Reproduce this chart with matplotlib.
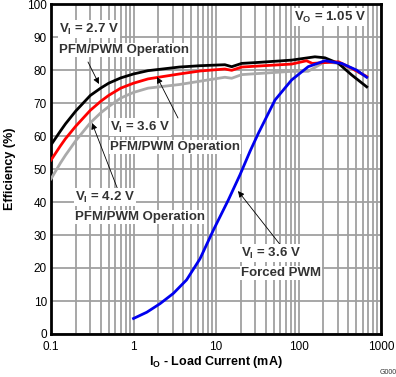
import matplotlib
matplotlib.use("Agg")
import matplotlib.pyplot as plt

plt.rcParams['font.family'] = ['Liberation Sans', 'DejaVu Sans']
plt.rcParams['mathtext.fontset'] = 'custom'
plt.rcParams['mathtext.rm'] = 'Liberation Sans:bold'
plt.rcParams['mathtext.bf'] = 'Liberation Sans:bold'

# Data (load current mA, efficiency %)
black_x = [0.1, 0.13, 0.15, 0.2, 0.3, 0.4, 0.5, 0.7, 1.0, 1.5, 3.6, 6.4, 12.8, 15.5, 20.5, 32.6, 82.7, 158, 209, 305, 441, 671]
black_y = [57.3, 61.5, 63.7, 67.6, 72.3, 74.5, 76.0, 77.6, 78.8, 79.8, 80.9, 81.3, 81.6, 81.0, 82.0, 82.3, 83.0, 84.0, 83.7, 82.0, 78.5, 74.9]

red_x = [0.1, 0.13, 0.15, 0.2, 0.3, 0.4, 0.5, 0.7, 1.0, 1.5, 3.6, 6.4, 12.8, 15.5, 20.5, 32.6, 82.7, 125, 147, 305, 441, 671]
red_y = [52.7, 57.0, 59.2, 63.0, 67.8, 70.5, 72.3, 74.5, 76.0, 77.3, 78.8, 79.7, 80.3, 79.9, 80.9, 81.2, 81.8, 82.8, 82.0, 82.5, 80.5, 78.0]

gray_x = [0.1, 0.13, 0.15, 0.2, 0.3, 0.4, 0.5, 0.7, 1.0, 1.5, 3.6, 6.4, 12.8, 15.5, 20.5, 82.7, 131, 209, 305, 441, 671]
gray_y = [47.0, 51.8, 54.2, 58.6, 64.0, 67.0, 68.9, 71.5, 73.2, 74.5, 75.6, 76.6, 77.8, 77.5, 78.6, 79.6, 79.6, 82.5, 82.0, 80.5, 78.0]

blue_x = [1.0, 1.45, 2.1, 3.04, 4.4, 6.4, 9.3, 14.1, 19.5, 26, 32.6, 51.9, 82.7, 131, 209, 333, 503, 671]
blue_y = [4.7, 6.6, 9.2, 12.3, 16.4, 22.8, 31.5, 40.6, 48.2, 55.5, 60.8, 70.9, 77.0, 81.0, 82.8, 82.0, 80.0, 77.8]

x_ticks = [0.1, 1, 10, 100, 1000]
x_ticklabels = ['0.1', '1', '10', '100', '1000']
y_ticks = list(range(0, 101, 10))

fig = plt.figure(figsize=(3.96, 3.77), dpi=100)
ax = fig.add_axes([51/396, 43/377, 330/396, 330/377])
ax.set_xscale('log')
ax.set_xlim(0.1, 1000)
ax.set_ylim(0, 100)

ax.set_xticks(x_ticks)
ax.set_xticklabels(x_ticklabels)
ax.set_yticks(y_ticks)
ax.grid(True, which='major', axis='both', color='#a0a0a0', lw=1.3)
ax.grid(True, which='minor', axis='x', color='#a0a0a0', lw=1.3)
ax.tick_params(which='both', length=0, labelsize=8.5, pad=3)
ax.tick_params(axis='x', pad=5)
for s in ax.spines.values():
    s.set_linewidth(2)
ax.set_axisbelow(True)

lw = 2.0
ax.plot(gray_x, gray_y, color='#aaaaaa', lw=lw, zorder=3, solid_joinstyle='round')
ax.plot(black_x, black_y, color='black', lw=lw, zorder=4, solid_joinstyle='round')
ax.plot(red_x, red_y, color='red', lw=lw, zorder=5, solid_joinstyle='round')
ax.plot(blue_x, blue_y, color='#0000ee', lw=lw, zorder=6, solid_joinstyle='round')

ax.set_xlabel(r'I$_\mathregular{O}$ - Load Current (mA)', fontsize=9, fontweight='bold', labelpad=1)
ax.set_ylabel('Efficiency (%)', fontsize=9, fontweight='bold', labelpad=8)

bbox = dict(facecolor='white', edgecolor='none', pad=1)

def label(x, y, s):
    fx, fy = x / 396, 1 - y / 377
    fig.text(fx, fy, s, fontsize=9.5, fontweight='bold', color='#333333',
             ha='left', va='center', zorder=7, bbox=bbox)

label(59, 29, r'V$_\mathregular{I}$ = 2.7 V')
label(59, 50, 'PFM/PWM Operation')
label(110, 127, r'V$_\mathregular{I}$ = 3.6 V')
label(110, 147, 'PFM/PWM Operation')
label(75, 197, r'V$_\mathregular{I}$ = 4.2 V')
label(75, 217, 'PFM/PWM Operation')
label(241, 253, r'V$_\mathregular{I}$ = 3.6 V')
label(241, 273, 'Forced PWM')
fig.text(366/396, 1 - 17/377, r'V$_\mathregular{O}$ = 1.05 V', fontsize=9.5, fontweight='bold',
         color='#333333', ha='right', va='center', zorder=7, bbox=bbox)

def arrow(x0, y0, x1, y1):
    ax.annotate('', xy=(x1 / 396, 1 - y1 / 377), xycoords='figure fraction',
                xytext=(x0 / 396, 1 - y0 / 377), textcoords='figure fraction',
                arrowprops=dict(arrowstyle='-|>', color='black', lw=0.6,
                                mutation_scale=9, shrinkA=0, shrinkB=0),
                zorder=8)

arrow(88, 62, 99, 84)
arrow(178, 118, 157, 77)
arrow(118, 190, 92, 123)
arrow(282, 247, 238, 191)

fig.text(380/396, 1 - 373/377, 'G000', fontsize=5, color='#333333', ha='left', va='center')

fig.savefig('out.png', dpi=100)
